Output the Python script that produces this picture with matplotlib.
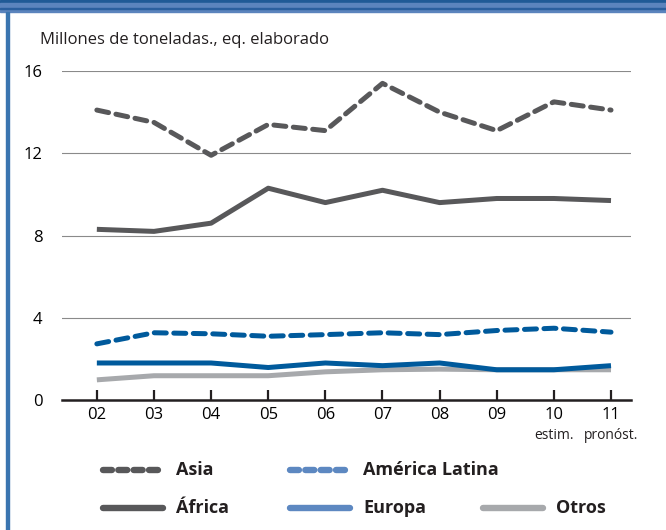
import matplotlib
matplotlib.use('Agg')
import matplotlib.pyplot as plt
from matplotlib.lines import Line2D
from matplotlib.patches import Rectangle

# Data (million tonnes, product weight)
years = ["02", "03", "04", "05", "06", "07", "08", "09", "10", "11"]
asia = [14.1, 13.5, 11.9, 13.4, 13.1, 15.4, 14.0, 13.1, 14.5, 14.1]
africa = [8.3, 8.2, 8.6, 10.3, 9.6, 10.2, 9.6, 9.8, 9.8, 9.7]
america_latina = [2.73, 3.27, 3.22, 3.10, 3.18, 3.27, 3.18, 3.38, 3.49, 3.30]
europa = [1.80, 1.80, 1.80, 1.58, 1.80, 1.67, 1.80, 1.47, 1.47, 1.67]
otros = [0.98, 1.18, 1.18, 1.18, 1.37, 1.47, 1.50, 1.47, 1.47, 1.47]
sub_labels = {8: "estim.", 9: "pronóst."}
yticks = [0, 4, 8, 12, 16]

GRAY = "#58585a"
BLUE = "#005a9c"
BLUE_LEG = "#5d88c1"
LIGHT = "#a7a9ac"

plt.rcParams['font.family'] = ['Open Sans', 'DejaVu Sans']

fig = plt.figure(figsize=(6.66, 5.30), dpi=100)
W, H = 666, 530

# frame decoration: blue bands on top, blue rule on left
fig.patches.append(Rectangle((0, 1 - 3 / H), 1, 3 / H, transform=fig.transFigure, color="#1f5a96", zorder=0))
fig.patches.append(Rectangle((0, 1 - 12 / H), 1, 9 / H, transform=fig.transFigure, color="#5b84bd", zorder=0))
fig.patches.append(Rectangle((0, 1 - 9 / H), 1, 1.2 / H, transform=fig.transFigure, color="#2a5f9e", zorder=0))
fig.patches.append(Rectangle((6 / W, 0), 2.5 / W, 1 - 12 / H, transform=fig.transFigure, color="#3a75b0", zorder=0))

ax = fig.add_axes([62 / W, 130 / H, (631 - 62) / W, (400 - 71) / H])
x = list(range(len(years)))

dash = (0, (2.4, 1.5))
ax.plot(x, otros, color=LIGHT, lw=3.6, solid_capstyle='butt', zorder=3)
ax.plot(x, europa, color=BLUE, lw=3.6, solid_capstyle='butt', zorder=4)
ax.plot(x, america_latina, color=BLUE, lw=3.6, linestyle=dash, dash_capstyle='round', zorder=4)
ax.plot(x, africa, color=GRAY, lw=3.6, solid_capstyle='butt', zorder=4)
ax.plot(x, asia, color=GRAY, lw=3.6, linestyle=dash, dash_capstyle='round', zorder=4)

ax.set_xlim(-0.61, 9.35)
ax.set_ylim(0, 16)
ax.set_yticks(yticks)
ax.set_yticklabels([str(v) for v in yticks], fontsize=12)
for v in yticks[1:]:
    ax.axhline(v, color="#8a8a8a", lw=0.8, zorder=1)

ax.set_xticks(x)
ax.set_xticklabels(years, fontsize=12)
ax.tick_params(axis='x', direction='in', length=7, width=1.6, color="#231f20", pad=5)
ax.tick_params(axis='y', length=0, pad=14)

for s in ["top", "right", "left"]:
    ax.spines[s].set_visible(False)
ax.spines["bottom"].set_linewidth(1.8)
ax.spines["bottom"].set_color("#231f20")

for i, lab in sub_labels.items():
    ax.text(i, -0.085, lab, transform=ax.get_xaxis_transform(), ha='center', va='top',
            fontsize=10, color="#231f20")

fig.text(40 / W, 1 - 40 / H, "Millones de toneladas., eq. elaborado", fontsize=12,
         color="#231f20", va='center', ha='left')

# legend drawn by hand to keep the irregular column layout
leg_dash = (0, (1.4, 1.0))
legend_items = [
    ("Asia", GRAY, leg_dash, 103, 470),
    ("América Latina", BLUE_LEG, leg_dash, 290, 470),
    ("África", GRAY, '-', 103, 508),
    ("Europa", BLUE_LEG, '-', 290, 508),
    ("Otros", LIGHT, '-', 483, 508),
]
for label, col, ls, x0, y0 in legend_items:
    yy = 1 - y0 / H
    fig.add_artist(Line2D([x0 / W, (x0 + 60) / W], [yy, yy], transform=fig.transFigure,
                          color=col, lw=4.6, linestyle=ls, dash_capstyle='round',
                          solid_capstyle='round'))
    fig.text((x0 + 73) / W, yy, label, fontsize=13, fontweight='bold', color="#231f20",
             va='center', ha='left')

fig.savefig("out.png", dpi=100)
